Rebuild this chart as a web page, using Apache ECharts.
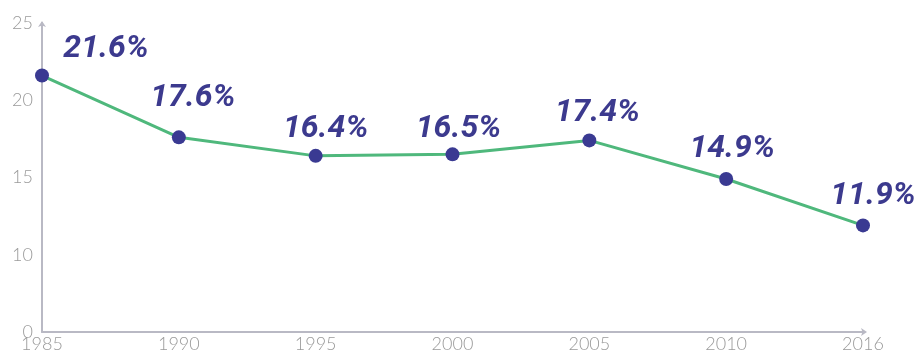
<!DOCTYPE html>
<html>
<head>
<meta charset="utf-8">
<script src="https://cdn.jsdelivr.net/npm/echarts@6/dist/echarts.min.js"></script>
<style>
  html, body { margin: 0; padding: 0; background: #fff; }
  #chart { width: 918px; height: 353px; }
</style>
</head>
<body>
<div id="chart"></div>
<script>
// Years along the horizontal axis
const years = ['1985', '1990', '1995', '2000', '2005', '2010', '2016'];
// Rate (%) for each year
const rates = [21.6, 17.6, 16.4, 16.5, 17.4, 14.9, 11.9];
// Vertical axis labels, bottom to top (the axis is broken below 10)
const yTickLabels = ['0', '10', '15', '20', '25'];
// Label nudges per point, in pixels
const labelOffsets = [[64, 1], [14, -11], [10, 1], [6, 3], [8, 1], [6, -2], [10, -1]];

const chart = echarts.init(document.getElementById('chart'));

chart.setOption({
  animation: false,
  grid: { left: 42, right: 55, top: 23, bottom: 21, containLabel: false },
  xAxis: {
    type: 'category',
    data: years,
    boundaryGap: false,
    axisLine: {
      lineStyle: { color: '#b9b9c4', width: 2 },
      symbol: ['none', 'arrow'],
      symbolSize: [6, 6],
      symbolOffset: [0, 4]
    },
    axisTick: { show: false },
    axisLabel: {
      color: '#9a9a9a',
      fontFamily: 'Lato',
      fontWeight: 300,
      fontSize: 18,
      margin: 3
    },
    splitLine: { show: false }
  },
  yAxis: {
    type: 'value',
    min: 5,
    max: 25,
    interval: 5,
    axisLine: {
      show: true,
      lineStyle: { color: '#b9b9c4', width: 2 },
      symbol: ['none', 'arrow'],
      symbolSize: [6, 6],
      symbolOffset: [0, 2]
    },
    axisTick: { show: false },
    splitLine: { show: false },
    axisLabel: {
      color: '#9a9a9a',
      fontFamily: 'Lato',
      fontWeight: 300,
      fontSize: 18,
      margin: 9,
      formatter: (v, i) => yTickLabels[i]
    }
  },
  series: [{
    type: 'line',
    data: rates.map((v, i) => ({
      value: v,
      label: { offset: labelOffsets[i] }
    })),
    symbol: 'circle',
    symbolSize: 14,
    lineStyle: { color: '#4fb87c', width: 3 },
    itemStyle: { color: '#3a3a92' },
    label: {
      show: true,
      position: 'top',
      formatter: p => p.value + '%',
      color: '#3c3a8e',
      fontFamily: 'Roboto',
      fontWeight: 'bold',
      fontStyle: 'italic',
      fontSize: 32
    }
  }]
});
</script>
</body>
</html>
